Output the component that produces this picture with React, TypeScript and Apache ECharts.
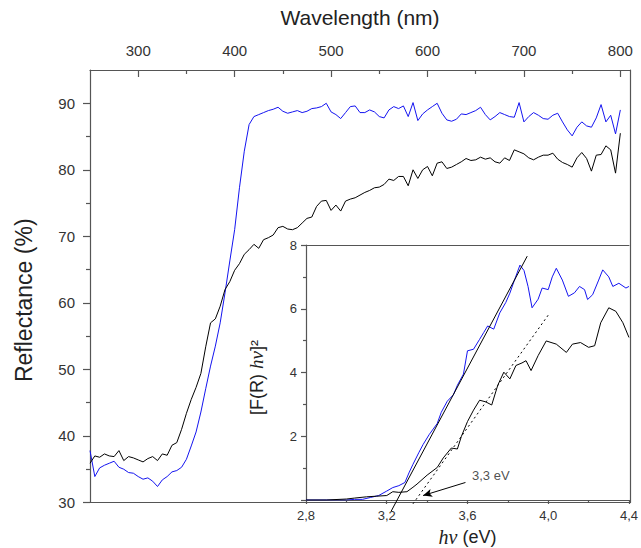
import React, { useEffect, useRef } from 'react';
import * as echarts from 'echarts';

// ---------- Main plot data ----------
const wavelengthNm = [
  250, 255, 260, 265, 270, 275, 280, 285, 290, 295,
  300, 305, 310, 315, 320, 325, 330, 335, 340, 345,
  350, 355, 360, 365, 370, 375, 380, 385, 390, 395,
  400, 405, 410, 415, 420, 425, 430, 435, 440, 445,
  450, 455, 460, 465, 470, 475, 480, 485, 490, 495,
  500, 505, 510, 515, 520, 525, 530, 535, 540, 545,
  550, 555, 560, 565, 570, 575, 580, 585, 590, 595,
  600, 605, 610, 615, 620, 625, 630, 635, 640, 645,
  650, 655, 660, 665, 670, 675, 680, 685, 690, 695,
  700, 705, 710, 715, 720, 725, 730, 735, 740, 745,
  750, 755, 760, 765, 770, 775, 780, 785, 790, 795,
  800,
];

const reflectanceBlue = [
  37.8, 33.9, 35.2, 35.6, 35.9, 36.2, 35.3, 35.0, 34.5, 34.4,
  33.9, 33.5, 33.7, 33.2, 32.4, 33.4, 33.9, 34.6, 34.8, 35.3,
  36.5, 38.5, 40.6, 43.6, 47.1, 50.5, 53.5, 57.0, 61.5, 66.3,
  71.0, 77.3, 82.8, 86.8, 88.0, 88.3, 88.6, 88.9, 89.1, 89.4,
  88.8, 88.5, 88.7, 88.9, 88.6, 88.8, 89.2, 89.3, 89.5, 90.0,
  88.7, 88.3, 87.7, 88.6, 89.5, 89.6, 88.6, 88.6, 89.0, 88.7,
  88.0, 87.8, 89.0, 89.5, 89.2, 89.6, 88.0, 90.1, 87.4, 88.4,
  89.0, 89.5, 90.0, 88.5, 87.5, 87.3, 87.6, 88.4, 88.3, 88.6,
  88.9, 89.4, 88.3, 87.5, 88.0, 88.6, 88.3, 88.0, 87.9, 90.1,
  87.2, 88.0, 88.6, 88.2, 87.7, 87.6, 88.2, 88.5, 87.2, 86.0,
  85.1, 86.4, 87.2, 86.6, 86.4, 87.8, 89.8, 87.2, 88.2, 85.4,
  89.0,
];

const reflectanceBlack = [
  35.9, 37.0, 36.8, 37.3, 37.0, 36.9, 37.8, 36.3, 36.9, 36.7,
  36.4, 36.1, 36.6, 36.9, 36.3, 37.3, 37.1, 38.6, 39.0, 41.0,
  43.4, 45.5, 47.3, 49.4, 53.4, 57.0, 57.6, 59.5, 62.0, 63.2,
  64.9, 65.9, 67.3, 68.0, 68.8, 68.2, 69.5, 69.8, 70.2, 71.3,
  71.5, 71.1, 71.0, 71.3, 72.0, 72.7, 72.9, 74.5, 75.3, 75.4,
  73.9, 74.7, 73.8, 75.3, 75.6, 75.8, 76.2, 76.6, 76.9, 77.3,
  77.4, 77.8, 78.6, 78.4, 79.0, 79.0, 77.6, 80.0, 78.7, 80.0,
  80.5, 79.1, 81.0, 81.2, 80.2, 80.4, 80.8, 81.2, 81.7, 81.4,
  81.5, 81.9, 81.6, 81.8, 81.2, 81.0, 81.8, 81.4, 83.0, 82.7,
  82.4, 81.8, 81.5, 81.9, 82.2, 82.2, 82.5, 81.6, 81.1, 80.8,
  80.4, 81.8, 82.6, 81.7, 79.8, 82.2, 82.3, 83.6, 83.0, 79.5,
  85.5,
];

const topTickValues = [300, 400, 500, 600, 700, 800];
const topMinorTickValues = [350, 450, 550, 650, 750];
const leftTickValues = [30, 40, 50, 60, 70, 80, 90];
const leftMinorTickValues = [35, 45, 55, 65, 75, 85];

// ---------- Inset data ----------
const insetEnergyBlue = [
  2.8, 2.9, 3.0, 3.04, 3.08, 3.12, 3.16, 3.2, 3.23, 3.26,
  3.29, 3.31, 3.33, 3.36, 3.38, 3.41, 3.45, 3.47, 3.5, 3.53,
  3.55, 3.58, 3.6, 3.63, 3.66, 3.68, 3.7, 3.73, 3.76, 3.79,
  3.81, 3.83, 3.86, 3.88, 3.9, 3.92, 3.95, 3.97, 4.0, 4.02,
  4.04, 4.07, 4.1, 4.13, 4.155, 4.18, 4.195, 4.22, 4.25, 4.27,
  4.3, 4.32, 4.35, 4.385, 4.4,
];
const insetBlue = [
  0, 0, 0, 0.02, 0.02, 0.08, 0.14, 0.28, 0.39, 0.45,
  0.55, 0.85, 1.12, 1.5, 1.74, 2.05, 2.4, 2.75, 3.1, 3.3,
  3.6, 3.95, 4.68, 4.73, 5.04, 5.25, 5.46, 5.36, 5.87, 6.2,
  6.49, 6.85, 7.37, 7.2, 6.7, 6.03, 6.3, 6.65, 6.6, 7.0,
  7.27, 6.9, 6.39, 6.5, 6.7, 6.6, 6.29, 6.44, 6.9, 7.22,
  7.0, 6.7, 6.8, 6.65, 6.7,
];

const insetEnergyBlack = [
  2.8, 2.9, 3.0, 3.04, 3.1, 3.15, 3.2, 3.23, 3.26, 3.3,
  3.33, 3.35, 3.4, 3.45, 3.48, 3.52, 3.55, 3.57, 3.6, 3.63,
  3.66, 3.69, 3.72, 3.75, 3.78, 3.81, 3.84, 3.87, 3.89, 3.915,
  3.95, 3.99, 4.04, 4.09, 4.12, 4.16, 4.2, 4.23, 4.26, 4.3,
  4.335, 4.37, 4.4,
];
const insetBlack = [
  0, 0, 0.03, 0.06, 0.1, 0.12, 0.14, 0.26, 0.24, 0.26,
  0.4, 0.5, 0.78, 1.02, 1.32, 1.63, 1.6, 2.0, 2.46, 2.82,
  3.13, 3.08, 2.98, 3.6, 4.01, 3.8, 4.22, 4.3, 4.37, 4.06,
  4.53, 4.99, 4.89, 4.63, 4.89, 4.94, 4.79, 4.84, 5.56, 6.03,
  5.92, 5.56, 5.1,
];

const fitBlueEnergy = [3.222, 3.896];
const fitBlueValue = [-0.35, 7.65];
const fitBlackEnergy = [3.33, 4.0];
const fitBlackValue = [-0.12, 5.8];

const arrowStart = [3.59, 0.55];
const arrowEnd = [3.38, 0.14];
const annotationPos = [3.62, 0.76];
const annotationText = '3,3 eV';

const zip = (xs: number[], ys: number[]) => xs.map((x, i) => [x, ys[i]]);

const SANS = '"Liberation Sans", Arial, sans-serif';
const SERIF = '"Liberation Serif", "Times New Roman", serif';
const AXIS = '#555';
const BLUE = '#1414f0';

export default function App() {
  const ref = useRef<HTMLDivElement>(null);

  useEffect(() => {
    document.body.style.margin = '0';
    if (!ref.current) return;
    const chart = echarts.init(ref.current, undefined, { renderer: 'svg' });

    const axisLine = { show: true, onZero: false, lineStyle: { color: AXIS, width: 1.2 } };
    const tickStyle = { color: AXIS, width: 1.2 };
    // an axis that only draws its line (used for frame borders)
    const borderOnly = {
      axisLine,
      axisTick: { show: false },
      axisLabel: { show: false },
      splitLine: { show: false },
    };

    chart.setOption({
      animation: false,
      backgroundColor: '#fff',
      grid: [
        { left: 90, top: 70, width: 540, height: 432.5, show: false },
        {
          left: 306, top: 245, width: 324, height: 257.5,
          show: true, borderWidth: 0, borderColor: 'transparent', backgroundColor: '#fff',
        },
      ],
      xAxis: [
        {
          gridIndex: 0, type: 'value', position: 'top', min: 250, max: 810,
          name: 'Wavelength (nm)', nameLocation: 'middle', nameGap: 42,
          nameTextStyle: { fontSize: 21, color: '#222', fontFamily: SANS },
          axisLine,
          axisTick: { show: true, inside: true, length: 7, customValues: topTickValues, lineStyle: tickStyle },
          axisLabel: { customValues: topTickValues, fontSize: 15, color: '#333', fontFamily: SANS, margin: 12 },
          splitLine: { show: false },
        },
        {
          gridIndex: 0, type: 'value', position: 'top', min: 250, max: 810,
          axisLine: { show: false, onZero: false },
          axisTick: { show: true, inside: true, length: 4, customValues: topMinorTickValues, lineStyle: tickStyle },
          axisLabel: { show: false },
          splitLine: { show: false },
        },
        {
          gridIndex: 1, type: 'value', position: 'bottom', min: 2.8, max: 4.4, interval: 0.4,
          name: '{i|hν} (eV)', nameLocation: 'middle', nameGap: 27,
          nameTextStyle: {
            fontSize: 18, color: '#222', fontFamily: SANS,
            rich: { i: { fontSize: 20, fontStyle: 'italic', fontFamily: SERIF, color: '#222' } },
          },
          axisLine,
          axisTick: { show: true, length: 4, lineStyle: tickStyle },
          minorTick: { show: true, splitNumber: 2, length: 3, lineStyle: tickStyle },
          axisLabel: {
            fontSize: 13, color: '#333', fontFamily: SANS, margin: 9,
            formatter: (v: number) => v.toFixed(1).replace('.', ','),
          },
          splitLine: { show: false },
        },
        { gridIndex: 0, type: 'value', position: 'bottom', min: 250, max: 810, ...borderOnly },
        { gridIndex: 1, type: 'value', position: 'top', min: 2.8, max: 4.4, ...borderOnly },
      ],
      yAxis: [
        {
          gridIndex: 0, type: 'value', position: 'left', min: 30, max: 95,
          name: 'Reflectance (%)', nameLocation: 'middle', nameGap: 55,
          nameTextStyle: { fontSize: 23, color: '#222', fontFamily: SANS, padding: [0, 28, 0, 0] },
          axisLine,
          axisTick: { show: true, length: 7, customValues: leftTickValues, lineStyle: tickStyle },
          axisLabel: { customValues: leftTickValues, fontSize: 15, color: '#333', fontFamily: SANS, margin: 15 },
          splitLine: { show: false },
        },
        {
          gridIndex: 0, type: 'value', position: 'left', min: 30, max: 95,
          axisLine: { show: false, onZero: false },
          axisTick: { show: true, length: 4, customValues: leftMinorTickValues, lineStyle: tickStyle },
          axisLabel: { show: false },
          splitLine: { show: false },
        },
        {
          gridIndex: 1, type: 'value', position: 'left', min: 0, max: 8, interval: 2,
          name: '[F(R) {i|hν}]²', nameLocation: 'middle', nameGap: 40,
          nameTextStyle: {
            fontSize: 18, color: '#222', fontFamily: SANS, padding: [0, 10, 0, 0],
            rich: { i: { fontSize: 19, fontStyle: 'italic', fontFamily: SERIF, color: '#222' } },
          },
          axisLine,
          axisTick: { show: true, length: 5, lineStyle: tickStyle },
          minorTick: { show: true, splitNumber: 2, length: 3, lineStyle: tickStyle },
          axisLabel: {
            fontSize: 13, color: '#333', fontFamily: SANS, margin: 9,
            formatter: (v: number) => (v === 0 ? '' : String(v)),
          },
          splitLine: { show: false },
        },
        { gridIndex: 0, type: 'value', position: 'right', min: 30, max: 95, ...borderOnly },
      ],
      series: [
        {
          type: 'line', xAxisIndex: 0, yAxisIndex: 0, data: zip(wavelengthNm, reflectanceBlue),
          showSymbol: false, symbol: 'none', lineStyle: { color: BLUE, width: 1 }, z: 3,
        },
        {
          type: 'line', xAxisIndex: 0, yAxisIndex: 0, data: zip(wavelengthNm, reflectanceBlack),
          showSymbol: false, symbol: 'none', lineStyle: { color: '#000', width: 1 }, z: 3,
        },
        {
          type: 'line', xAxisIndex: 2, yAxisIndex: 2, data: zip(insetEnergyBlue, insetBlue),
          showSymbol: false, symbol: 'none', lineStyle: { color: BLUE, width: 1 }, z: 4,
        },
        {
          type: 'line', xAxisIndex: 2, yAxisIndex: 2, data: zip(insetEnergyBlack, insetBlack),
          showSymbol: false, symbol: 'none', lineStyle: { color: '#000', width: 1 }, z: 4,
        },
        {
          type: 'line', xAxisIndex: 2, yAxisIndex: 2, data: zip(fitBlueEnergy, fitBlueValue),
          showSymbol: false, symbol: 'none', clip: false, lineStyle: { color: '#000', width: 1 }, z: 5,
        },
        {
          type: 'line', xAxisIndex: 2, yAxisIndex: 2, data: zip(fitBlackEnergy, fitBlackValue),
          showSymbol: false, symbol: 'none', clip: false,
          lineStyle: { color: '#000', width: 1, type: [2, 3] }, z: 5,
          markLine: {
            silent: true, symbol: ['none', 'arrow'], symbolSize: [6, 9],
            label: { show: false },
            lineStyle: { color: '#000', width: 1, type: 'solid' },
            data: [[{ coord: arrowStart }, { coord: arrowEnd }]],
          },
        },
        {
          type: 'scatter', xAxisIndex: 2, yAxisIndex: 2, data: [annotationPos],
          symbolSize: 1, itemStyle: { color: 'rgba(0,0,0,0)' }, silent: true, z: 6,
          label: {
            show: true, position: 'right', distance: 0, formatter: annotationText,
            fontSize: 13, color: '#222', fontFamily: SANS,
          },
        },
      ],
    });

    return () => chart.dispose();
  }, []);

  return <div ref={ref} style={{ width: 641, height: 548 }} />;
}
